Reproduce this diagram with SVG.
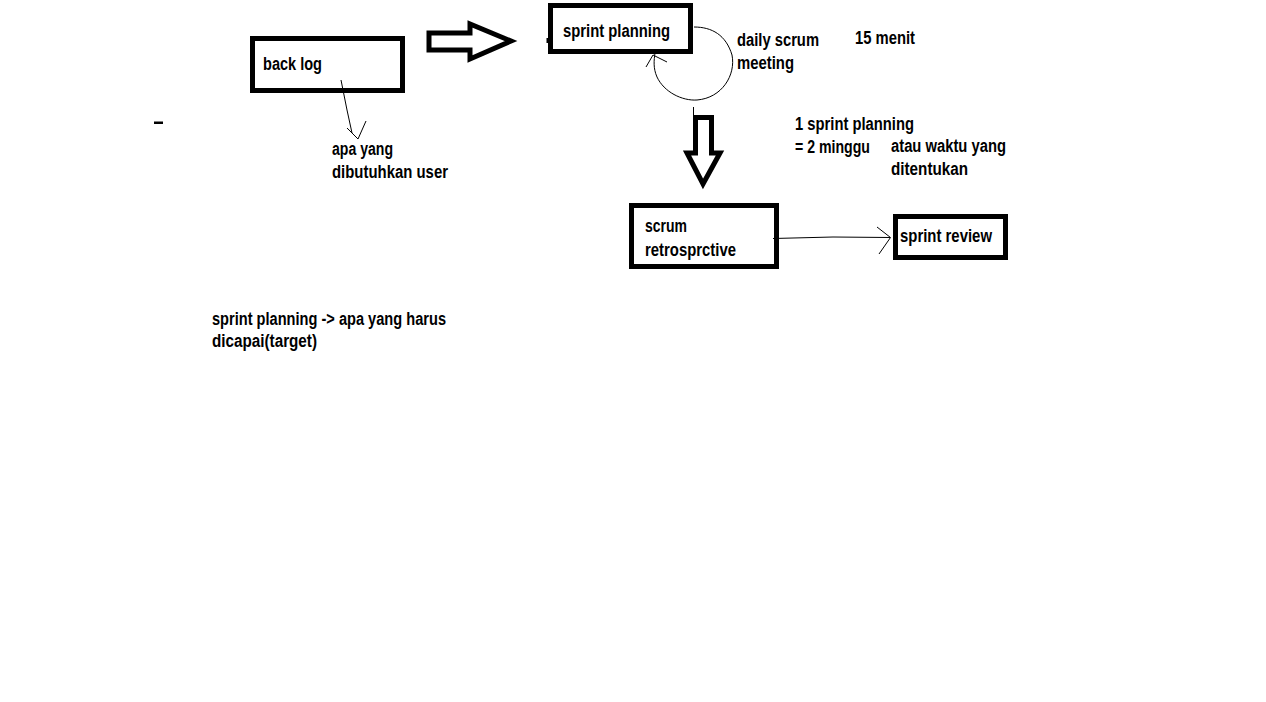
<svg xmlns="http://www.w3.org/2000/svg" width="1266" height="702" viewBox="0 0 1266 702">
<style>
.box{fill:none;stroke:#000;stroke-width:5}
.big{fill:#fff;stroke:#000;stroke-width:5;stroke-linejoin:miter}
.thin{fill:none;stroke:#000;stroke-width:1}
text{font-family:"Liberation Sans",Arial,sans-serif;font-weight:bold;font-size:18px;fill:#000}
</style>
<rect width="1266" height="702" fill="#fff"/>
<g id="connectors">
<polygon class="big" points="429,33 470,33 470,24 511,41 470,59 470,50 429,50"/>
<polygon class="big" points="695.5,117.5 711.5,117.5 711.5,153 720,153 703,184 687,153 695.5,153"/>
<line class="thin" x1="693.5" y1="107" x2="693.5" y2="116"/>
<path class="thin" d="M341,80 L347,110 L352,133 L358,139 L366,121 M347,128 L358,139"/>
<path class="thin" d="M694,27 C712,27 726,35 732,55 C736,75 722,98 697,100 C682,101 664,92 657,77 C653,68 654,60 655,53 M646,67 L653,55 L667,62"/>
<path class="thin" d="M773,238.5 L833,237 L890,237.5 M877,227 L890.5,237.5 L879,254"/>
<rect x="154" y="121.5" width="9" height="2.5" fill="#000"/>
<rect x="546.5" y="38" width="2.5" height="5" fill="#000"/>
</g>
<g id="backlog">
<rect class="box" x="252.5" y="38.5" width="150" height="52"/>
<text x="263" y="70" textLength="59" lengthAdjust="spacingAndGlyphs">back log</text>
</g>
<g id="sprint-planning">
<rect class="box" x="550.5" y="5.5" width="140" height="46"/>
<text x="563" y="37" textLength="107" lengthAdjust="spacingAndGlyphs">sprint planning</text>
</g>
<g id="scrum-retro">
<rect class="box" x="631.5" y="205.5" width="145" height="61"/>
<text x="645" y="232" textLength="42" lengthAdjust="spacingAndGlyphs">scrum</text>
<text x="645" y="256" textLength="91" lengthAdjust="spacingAndGlyphs">retrosprctive</text>
</g>
<g id="sprint-review">
<rect class="box" x="895.5" y="216.5" width="110" height="41"/>
<text x="900" y="242" textLength="92" lengthAdjust="spacingAndGlyphs">sprint review</text>
</g>
<g id="labels">
<text x="332" y="155" textLength="61" lengthAdjust="spacingAndGlyphs">apa yang</text>
<text x="332" y="178" textLength="116" lengthAdjust="spacingAndGlyphs">dibutuhkan user</text>
<text x="737" y="46" textLength="82" lengthAdjust="spacingAndGlyphs">daily scrum</text>
<text x="737" y="69" textLength="57" lengthAdjust="spacingAndGlyphs">meeting</text>
<text x="855" y="44" textLength="60" lengthAdjust="spacingAndGlyphs">15 menit</text>
<text x="795" y="130" textLength="119" lengthAdjust="spacingAndGlyphs">1 sprint planning</text>
<text x="795" y="153" textLength="75" lengthAdjust="spacingAndGlyphs">= 2 minggu</text>
<text x="891" y="152" textLength="115" lengthAdjust="spacingAndGlyphs">atau waktu yang</text>
<text x="891" y="175" textLength="77" lengthAdjust="spacingAndGlyphs">ditentukan</text>
<text x="212" y="325" textLength="234" lengthAdjust="spacingAndGlyphs">sprint planning -&gt; apa yang harus</text>
<text x="212" y="347" textLength="105" lengthAdjust="spacingAndGlyphs">dicapai(target)</text>
</g>
</svg>
